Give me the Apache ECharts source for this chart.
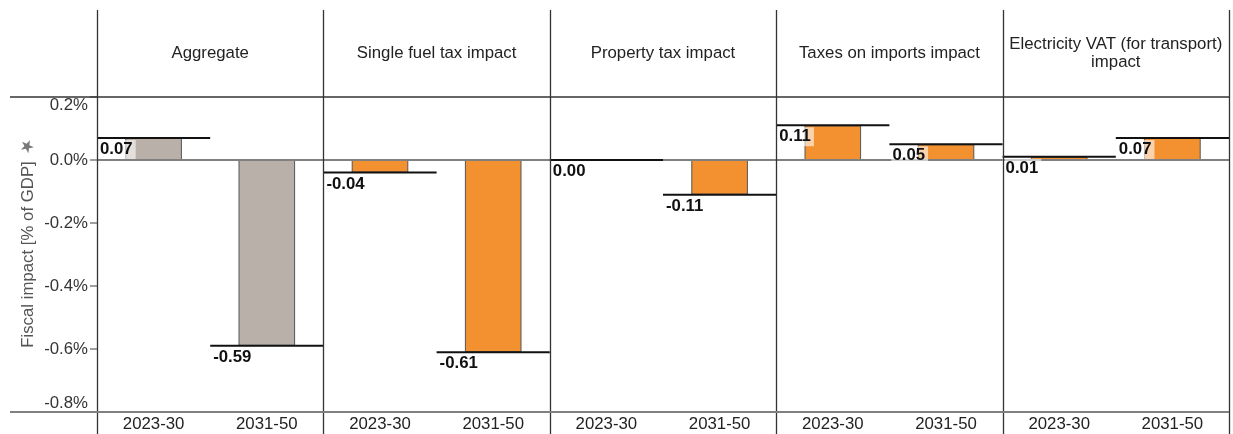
<!DOCTYPE html>
<html>
<head>
<meta charset="utf-8">
<script src="https://cdn.jsdelivr.net/npm/echarts@6/dist/echarts.min.js"></script>
<style>
html,body{margin:0;padding:0;background:#fff;}
#chart{width:1233px;height:434px;}
</style>
</head>
<body>
<div id="chart"></div>
<script>
// ---- data ----
const panelTitles = ['Aggregate', 'Single fuel tax impact', 'Property tax impact', 'Taxes on imports impact', 'Electricity VAT (for transport)\nimpact'];
const periods = ['2023-30', '2031-50'];
const aggregate = [0.07, -0.59];
const singleFuelTax = [-0.04, -0.61];
const propertyTax = [0.00, -0.11];
const taxesOnImports = [0.11, 0.05];
const electricityVat = [0.01, 0.07];
const yMin = -0.8, yMax = 0.2, yInterval = 0.2;
const yAxisTitle = 'Fiscal impact [% of GDP]';

// ---- layout / style ----
const panelValues = [aggregate, singleFuelTax, propertyTax, taxesOnImports, electricityVat];
const panelColors = ['#b9b0aa', '#f39130', '#f39130', '#f39130', '#f39130'];
const plotLeft = 97, plotRight = 1229, plotTop = 97, plotBottom = 412, frameTop = 10, frameBottom = 434, outerLeft = 10;
const nP = panelTitles.length;
const panelW = (plotRight - plotLeft) / nP;
const FONT = '"Liberation Sans", Arial, sans-serif';
const FS = 16.8;

const grids = [], xAxes = [], yAxes = [], series = [];
for (let i = 0; i < nP; i++) {
  grids.push({left: plotLeft + i * panelW, width: panelW, top: plotTop, height: plotBottom - plotTop});
  xAxes.push({
    type: 'category', gridIndex: i, data: periods,
    axisLine: {show: false}, axisTick: {show: false}, splitLine: {show: false},
    axisLabel: {fontSize: FS, color: '#222', margin: 4, fontFamily: FONT}
  });
  yAxes.push({
    type: 'value', gridIndex: i, min: yMin, max: yMax, interval: yInterval,
    show: i === 0,
    name: i === 0 ? yAxisTitle : '',
    nameLocation: 'middle', nameGap: 60,
    nameTextStyle: {fontSize: FS, color: '#555', fontFamily: FONT},
    axisLine: {show: false},
    axisTick: {show: true, length: 7, lineStyle: {color: '#808080', width: 1.5}},
    splitLine: {show: false},
    axisLabel: {
      fontSize: FS, color: '#333', margin: 9, fontFamily: FONT,
      verticalAlignMaxLabel: 'top', verticalAlignMinLabel: 'bottom',
      formatter: v => (Math.abs(v) < 1e-9 ? 0 : v).toFixed(1) + '%'
    }
  });
  series.push({
    type: 'bar', xAxisIndex: i, yAxisIndex: i,
    data: panelValues[i], barWidth: '50%',
    itemStyle: {color: panelColors[i], borderColor: '#555', borderWidth: 1},
    z: 2,
    markLine: {
      silent: true, symbol: 'none', label: {show: false},
      lineStyle: {color: '#808080', width: 2, type: 'solid'},
      data: [{yAxis: 0}], animation: false
    }
  });
  series.push({
    type: 'custom', xAxisIndex: i, yAxisIndex: i, z: 5,
    data: panelValues[i].map((v, k) => [k, v]),
    renderItem: function (params, api) {
      const v = api.value(1);
      const p = api.coord([api.value(0), v]);
      const bw = api.size([1, 0])[0];
      const l = p[0] - bw / 2;
      return {
        type: 'group',
        children: [
          {type: 'line', shape: {x1: l, y1: p[1], x2: l + bw, y2: p[1]}, style: {stroke: '#111', lineWidth: 2}},
          {type: 'text', x: l + 2, y: p[1] + 2, style: {
            text: v.toFixed(2), font: 'bold ' + FS + 'px ' + FONT, fill: '#111',
            backgroundColor: 'rgba(255,255,255,0.6)', padding: [1, 3, 1, 1], verticalAlign: 'top', align: 'left'
          }}
        ]
      };
    }
  });
}

const graphics = [];
for (let i = 0; i <= nP; i++) {
  const x = Math.round(plotLeft + i * panelW) + 0.5;
  graphics.push({type: 'line', shape: {x1: x, y1: frameTop, x2: x, y2: frameBottom}, style: {stroke: '#333', lineWidth: 1.3}, z: 10});
}
graphics.push({type: 'line', shape: {x1: outerLeft, y1: plotTop, x2: plotRight, y2: plotTop}, style: {stroke: '#333', lineWidth: 1.5}, z: 10});
graphics.push({type: 'line', shape: {x1: outerLeft, y1: plotBottom, x2: plotRight, y2: plotBottom}, style: {stroke: '#808080', lineWidth: 2}, z: 10});
for (let i = 0; i < nP; i++) {
  graphics.push({type: 'text', x: plotLeft + (i + 0.5) * panelW, y: (frameTop + plotTop) / 2,
    style: {text: panelTitles[i], font: FS + 'px ' + FONT, fill: '#222', align: 'center', verticalAlign: 'middle', lineHeight: 18}});
}
graphics.push({type: 'text', x: 28, y: 146, rotation: Math.PI / 2 + 0.5,
  style: {text: '★', font: '17px "DejaVu Sans"', fill: '#777', align: 'center', verticalAlign: 'middle'}});

const chart = echarts.init(document.getElementById('chart'), null, {renderer: 'canvas'});
chart.setOption({
  animation: false,
  grid: grids, xAxis: xAxes, yAxis: yAxes, series: series,
  graphic: graphics
});
</script>
</body>
</html>
